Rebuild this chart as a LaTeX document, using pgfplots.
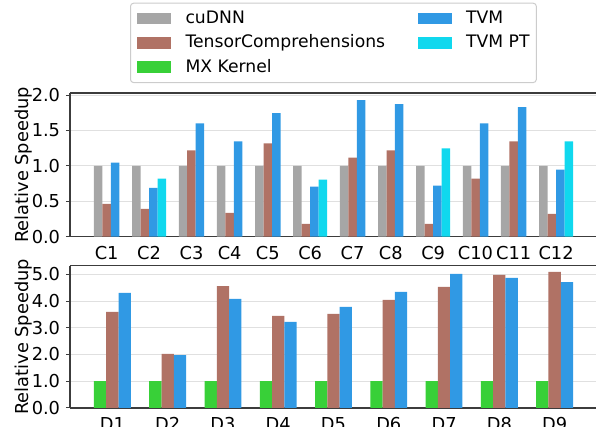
\documentclass[border=0pt]{standalone}
\usepackage{fontspec}
\setmainfont{DejaVu Sans}
\usepackage{pgfplots}
\pgfplotsset{compat=1.18}
\definecolor{cgray}{RGB}{166,166,166}
\definecolor{cbrown}{RGB}{176,114,101}
\definecolor{cgreen}{RGB}{56,208,56}
\definecolor{cblue}{RGB}{48,153,228}
\definecolor{ccyan}{RGB}{16,216,238}
\definecolor{spine}{RGB}{60,60,60}
\newcommand{\fs}{\fontsize{17.8}{21.4}\selectfont}
\newcommand{\fl}{\fontsize{17.2}{20.6}\selectfont}
\pgfplotsset{
  mybase/.style={
    scale only axis, width=527pt,
    ymin=0,
    axis x line*=box, axis y line*=left,
    axis line style={spine, line width=1.2pt},
    ybar,
    ymajorgrids, major grid style={black!12, line width=1pt},
    xtick style={draw=none},
    ytick style={spine, line width=1pt},
    tick align=outside, major tick length=4pt,
    tick label style={font=\fs},
    yticklabel style={/pgf/number format/fixed, /pgf/number format/fixed zerofill, /pgf/number format/precision=1, /pgf/number format/assume math mode=true, xshift=-2.4pt},
    xticklabel style={yshift=-1.7pt},
    label style={font=\fs},
    ylabel={Relative Speedup},
    ylabel style={at={(axis description cs:-0.0873,0.5)}, anchor=center},
  },
  b/.style={fill=#1, draw=none, bar width=1, bar shift=0pt, forget plot},
  lg/.style={fill=#1, draw=none, legend image code/.code={\fill[##1, sharp corners] (0pt,-5.8pt) rectangle (34pt,5.8pt);}},
}
\begin{document}
\begin{tikzpicture}
\useasboundingbox (0,0) rectangle (596pt,427pt);
% ---------- top: C1..C12 ----------
\begin{axis}[mybase,
  at={(70pt,190.3pt)}, anchor=south west, height=143.7pt,
  ymax=2.03, ytick={0,0.5,1,1.5,2},
  xmin=-2.825, xmax=59.325,
  xtick={1.5,6.5,11.5,16,20.5,25.5,30.5,35,40,45,49.5,54.5},
  xticklabels={C1,C2,C3,C4,C5,C6,C7,C8,C9,C10,C11,C12},
  legend style={at={(axis description cs:0.1139,1.628)}, anchor=north west,
    draw=black!20, rounded corners=3pt, line width=1pt, fill=white, font=\fl,
    inner xsep=6.7pt, inner ysep=7pt, row sep=7.9pt, column sep=0pt,
    nodes={inner sep=0pt, text height=13pt, text depth=3.5pt},
    /tikz/column 1/.style={column sep=14.3pt},
    /tikz/column 2/.style={column sep=33pt},
    /tikz/column 3/.style={column sep=14pt}},
  legend cell align=left, legend columns=2,
]
% cuDNN
\addplot[b=cgray] coordinates {(0.5,1) (5,1) (10.5,1) (15,1) (19.5,1) (24,1) (29.5,1) (34,1) (38.5,1) (44,1) (48.5,1) (53,1)};
% TensorComprehensions
\addplot[b=cbrown] coordinates {(1.5,0.464) (6,0.393) (11.5,1.218) (16,0.336) (20.5,1.317) (25,0.18) (30.5,1.118) (35,1.218) (39.5,0.18) (45,0.82) (49.5,1.346) (54,0.322)};
% TVM
\addplot[b=cblue] coordinates {(2.5,1.047) (7,0.69) (12.5,1.60) (17,1.346) (21.5,1.744) (26,0.706) (31.5,1.93) (36,1.872) (40.5,0.72) (46,1.60) (50.5,1.83) (55,0.948)};
% TVM PT
\addplot[b=ccyan] coordinates {(8,0.82) (27,0.806) (41.5,1.246) (56,1.346)};
\addlegendimage{lg=cgray}\addlegendentry{cuDNN}
\addlegendimage{lg=cblue}\addlegendentry{TVM}
\addlegendimage{lg=cbrown}\addlegendentry{TensorComprehensions}
\addlegendimage{lg=ccyan}\addlegendentry{TVM PT}
\addlegendimage{lg=cgreen}\addlegendentry{MX Kernel}
\end{axis}
% ---------- bottom: D1..D9 ----------
\begin{axis}[mybase,
  at={(70pt,19pt)}, anchor=south west, height=142.3pt,
  ymax=5.32, ytick={0,1,2,3,4,5},
  xmin=-1.95, xmax=40.95,
  xtick={1.5,6,10.5,15,19.5,24,28.5,33,37.5},
  xticklabels={D1,D2,D3,D4,D5,D6,D7,D8,D9},
]
% MX Kernel
\addplot[b=cgreen] coordinates {(0.5,1) (5,1) (9.5,1) (14,1) (18.5,1) (23,1) (27.5,1) (32,1) (36.5,1)};
% TensorComprehensions
\addplot[b=cbrown] coordinates {(1.5,3.59) (6,2.02) (10.5,4.56) (15,3.44) (19.5,3.52) (24,4.04) (28.5,4.53) (33,4.975) (37.5,5.09)};
% TVM
\addplot[b=cblue] coordinates {(2.5,4.30) (7,1.98) (11.5,4.08) (16,3.22) (20.5,3.78) (25,4.34) (29.5,5.01) (34,4.86) (38.5,4.71)};
\end{axis}
\end{tikzpicture}
\end{document}
